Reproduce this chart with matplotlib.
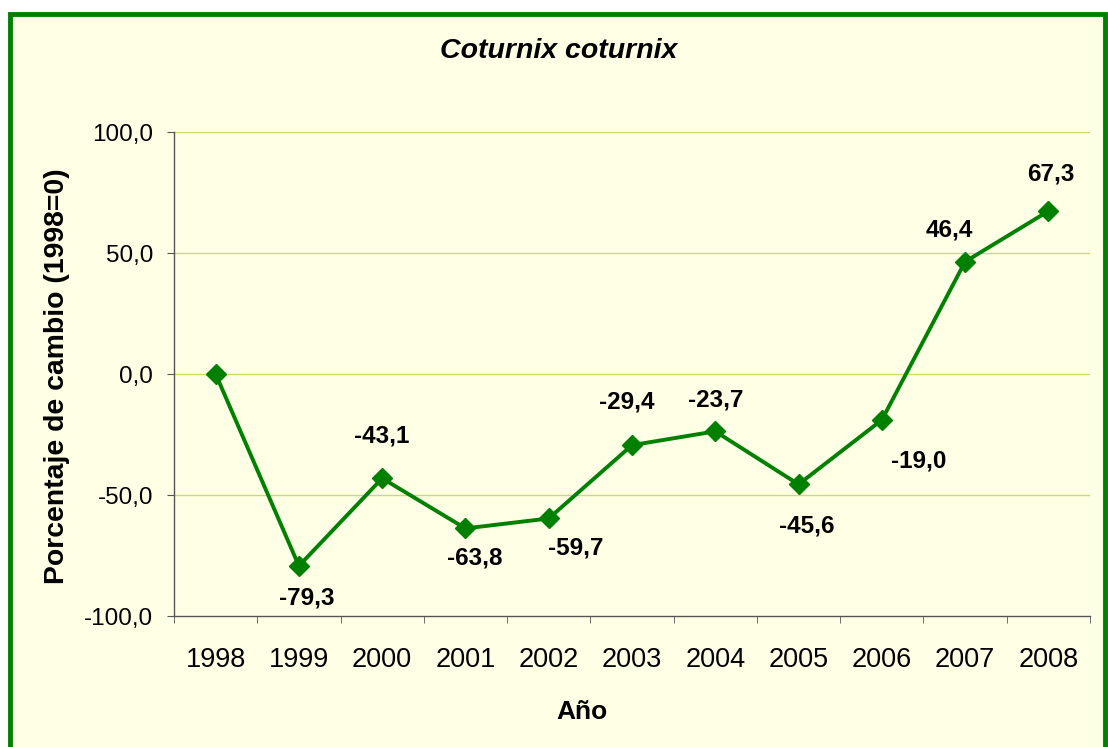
import matplotlib
matplotlib.use("Agg")
import matplotlib.pyplot as plt
from matplotlib.patches import Rectangle

# datos
anios = ["1998", "1999", "2000", "2001", "2002", "2003", "2004", "2005", "2006", "2007", "2008"]
cambio = [0.0, -79.3, -43.1, -63.8, -59.7, -29.4, -23.7, -45.6, -19.0, 46.4, 67.3]
etiquetas_y = ["-100,0", "-50,0", "0,0", "50,0", "100,0"]
valores_y = [-100, -50, 0, 50, 100]

# desplazamiento de las etiquetas (pixeles), None = sin etiqueta
desp = [None, (8, -32), (0, 42), (9, -30), (27, -30), (-5, 43), (0, 31),
        (8, -42), (37, -41), (-16, 32), (2, 37)]

plt.rcParams['font.family'] = ['Liberation Sans', 'DejaVu Sans']

verde = '#008000'
fondo = '#FFFFE6'

fig = plt.figure(figsize=(11.08, 7.47), dpi=100)
fig.patch.set_facecolor('white')

# marco verde
W, H = 1108, 747
marco = Rectangle((10 / W, -0.01), (1105 - 10) / W, (747 - 14) / H + 0.01,
                  transform=fig.transFigure, facecolor=fondo,
                  edgecolor=verde, linewidth=3.5, zorder=-1)
fig.add_artist(marco)

ax = fig.add_axes([174 / W, 1 - 616 / H, (1090 - 174) / W, (616 - 132) / H])
ax.set_facecolor('none')
ax.set_zorder(1)

x = list(range(len(anios)))
ax.plot(x, cambio, color=verde, linewidth=2.8, marker='D', markersize=10.5,
        markerfacecolor=verde, markeredgecolor=verde, zorder=3, clip_on=False)

for i, v in enumerate(cambio):
    if desp[i] is None:
        continue
    txt = f"{v:.1f}".replace('.', ',')
    ax.annotate(txt, (i, v), xytext=desp[i], textcoords='offset pixels',
                ha='center', va='center', fontsize=17.5, fontweight='bold')

ax.set_xlim(-0.5, len(anios) - 0.5)
ax.set_ylim(-100, 100)
ax.set_yticks(valores_y)
ax.set_yticklabels(etiquetas_y, fontsize=17.5)
ax.set_xticks(x)
ax.set_xticklabels(anios, fontsize=19.5)
ax.set_xticks([i - 0.5 for i in range(len(anios) + 1)], minor=True)
ax.tick_params(axis='x', which='major', length=0, pad=22)
ax.tick_params(axis='x', which='minor', length=5, color='#555555', direction='out')
ax.tick_params(axis='y', length=5, color='#555555', pad=10)

for y in valores_y[1:]:
    ax.axhline(y, color='#C8E060', linewidth=1.0, zorder=1)

for s in ['top', 'right']:
    ax.spines[s].set_visible(False)
for s in ['left', 'bottom']:
    ax.spines[s].set_color('#555555')
    ax.spines[s].set_linewidth(1.0)

fig.text(559 / W, 1 - 51 / H, "Coturnix coturnix", ha='center', va='center',
         fontsize=20.5, fontweight='bold', fontstyle='italic')
fig.text(57 / W, 1 - 376 / H, "Porcentaje de cambio (1998=0)", ha='center', va='center',
         rotation=90, fontsize=20.4, fontweight='bold')
fig.text(582 / W, 1 - 712 / H, "Año", ha='center', va='center',
         fontsize=19, fontweight='bold')

fig.savefig("out.png", dpi=100, facecolor=fig.get_facecolor())
